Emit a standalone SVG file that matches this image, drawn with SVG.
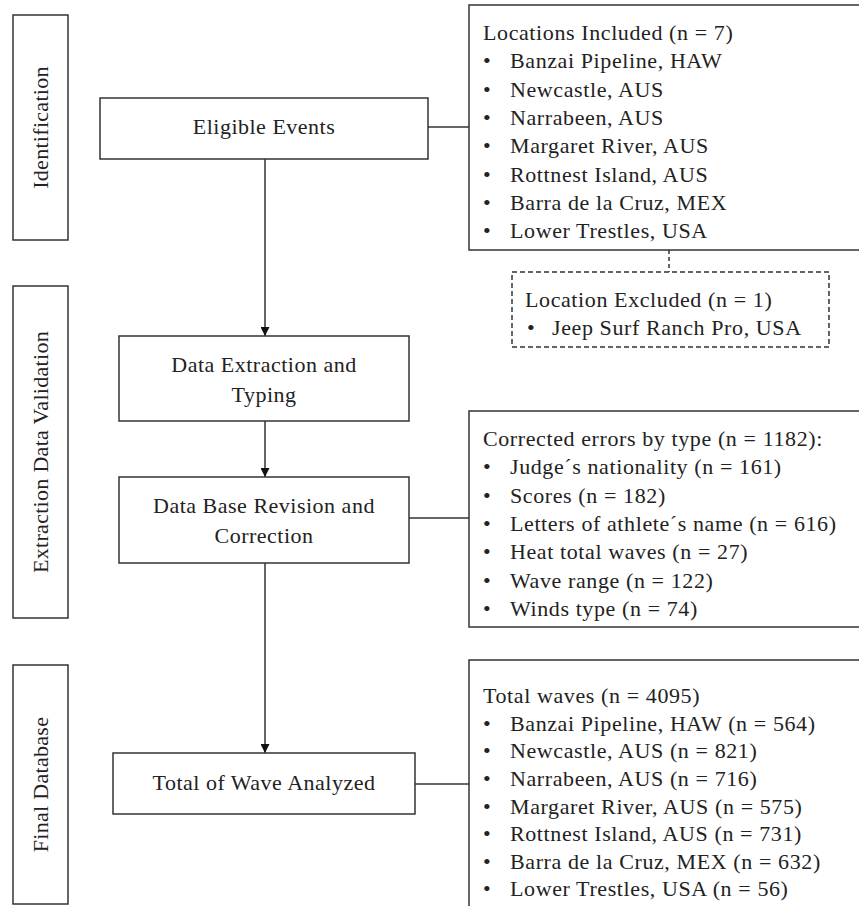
<svg xmlns="http://www.w3.org/2000/svg" width="859" height="906" viewBox="0 0 859 906">
<defs>
<style>
.box{fill:#fff;stroke:#333;stroke-width:1.5}
.dash{fill:#fff;stroke:#333;stroke-width:1.5;stroke-dasharray:5 3}
.ln{fill:none;stroke:#333;stroke-width:1.5}
.dln{fill:none;stroke:#333;stroke-width:1.5;stroke-dasharray:4 3}
text{font-family:"Liberation Serif","Times New Roman",serif;fill:#222}
.m{font-size:22px;text-anchor:middle;letter-spacing:0.5px}
.s{font-size:22px;letter-spacing:0.6px}
.v{font-size:22px;text-anchor:middle;letter-spacing:0.3px}
</style>
<marker id="arr" viewBox="0 0 10 10" refX="10" refY="5" markerWidth="10" markerHeight="9" markerUnits="userSpaceOnUse" orient="auto">
<path d="M0,0 L10,5 L0,10 z" fill="#111"/>
</marker>
</defs>

<g id="connectors">
<path class="ln" d="M265,159 V336" marker-end="url(#arr)"/>
<path class="ln" d="M265,421 V477" marker-end="url(#arr)"/>
<path class="ln" d="M265,563 V753" marker-end="url(#arr)"/>
<path class="ln" d="M428,127 H469"/>
<path class="ln" d="M409,518 H469"/>
<path class="ln" d="M415,784 H469"/>
<path class="dln" d="M669,250 V272"/>
</g>

<g id="stage-identification">
<rect class="box" x="13" y="15" width="55" height="225"/>
<text class="v" transform="translate(48,127.5) rotate(-90)">Identification</text>
</g>
<g id="stage-extraction">
<rect class="box" x="13" y="286" width="55" height="332"/>
<text class="v" transform="translate(48,452) rotate(-90)">Extraction  Data  Validation</text>
</g>
<g id="stage-final">
<rect class="box" x="13" y="665" width="55" height="239"/>
<text class="v" transform="translate(48,784.5) rotate(-90)">Final Database</text>
</g>

<g id="eligible-events">
<rect class="box" x="100" y="98" width="328" height="61"/>
<text class="m" x="264" y="134">Eligible Events</text>
</g>

<g id="data-extraction">
<rect class="box" x="119" y="336" width="290" height="85"/>
<text class="m" x="264" y="372">Data Extraction and</text>
<text class="m" x="264" y="402">Typing</text>
</g>

<g id="data-base-revision">
<rect class="box" x="119" y="477" width="290" height="86"/>
<text class="m" x="264" y="513">Data Base Revision and</text>
<text class="m" x="264" y="543">Correction</text>
</g>

<g id="total-analyzed">
<rect class="box" x="113" y="753" width="302" height="61"/>
<text class="m" x="264" y="790">Total of Wave Analyzed</text>
</g>

<g id="locations-included">
<rect class="box" x="469" y="5" width="400" height="245"/>
<text class="s" x="483" y="40">Locations Included (n = 7)</text>
<text class="s" x="483" y="68">•</text><text class="s" x="510" y="68">Banzai Pipeline, HAW</text>
<text class="s" x="483" y="97">•</text><text class="s" x="510" y="97">Newcastle, AUS</text>
<text class="s" x="483" y="125">•</text><text class="s" x="510" y="125">Narrabeen, AUS</text>
<text class="s" x="483" y="153">•</text><text class="s" x="510" y="153">Margaret River, AUS</text>
<text class="s" x="483" y="182">•</text><text class="s" x="510" y="182">Rottnest Island, AUS</text>
<text class="s" x="483" y="210">•</text><text class="s" x="510" y="210">Barra de la Cruz, MEX</text>
<text class="s" x="483" y="238">•</text><text class="s" x="510" y="238">Lower Trestles, USA</text>
</g>

<g id="location-excluded">
<rect class="dash" x="512" y="272" width="317" height="75"/>
<text class="s" x="525" y="307">Location Excluded (n = 1)</text>
<text class="s" x="527" y="335">•</text><text class="s" x="552" y="335">Jeep Surf Ranch Pro, USA</text>
</g>

<g id="corrected-errors">
<rect class="box" x="469" y="411" width="400" height="216"/>
<text class="s" x="483" y="446">Corrected errors by type (n = 1182):</text>
<text class="s" x="483" y="474">•</text><text class="s" x="510" y="474">Judge´s nationality (n = 161)</text>
<text class="s" x="483" y="503">•</text><text class="s" x="510" y="503">Scores (n = 182)</text>
<text class="s" x="483" y="531">•</text><text class="s" x="510" y="531">Letters of athlete´s name (n = 616)</text>
<text class="s" x="483" y="559">•</text><text class="s" x="510" y="559">Heat total waves (n = 27)</text>
<text class="s" x="483" y="588">•</text><text class="s" x="510" y="588">Wave range (n = 122)</text>
<text class="s" x="483" y="616">•</text><text class="s" x="510" y="616">Winds type (n = 74)</text>
</g>

<g id="total-waves">
<rect class="box" x="469" y="660" width="400" height="260"/>
<text class="s" x="483" y="703">Total waves (n = 4095)</text>
<text class="s" x="483" y="731">•</text><text class="s" x="510" y="731">Banzai Pipeline, HAW (n = 564)</text>
<text class="s" x="483" y="758">•</text><text class="s" x="510" y="758">Newcastle, AUS (n = 821)</text>
<text class="s" x="483" y="786">•</text><text class="s" x="510" y="786">Narrabeen, AUS (n = 716)</text>
<text class="s" x="483" y="814">•</text><text class="s" x="510" y="814">Margaret River, AUS (n = 575)</text>
<text class="s" x="483" y="841">•</text><text class="s" x="510" y="841">Rottnest Island, AUS (n = 731)</text>
<text class="s" x="483" y="869">•</text><text class="s" x="510" y="869">Barra de la Cruz, MEX (n = 632)</text>
<text class="s" x="483" y="896">•</text><text class="s" x="510" y="896">Lower Trestles, USA (n = 56)</text>
</g>
</svg>
